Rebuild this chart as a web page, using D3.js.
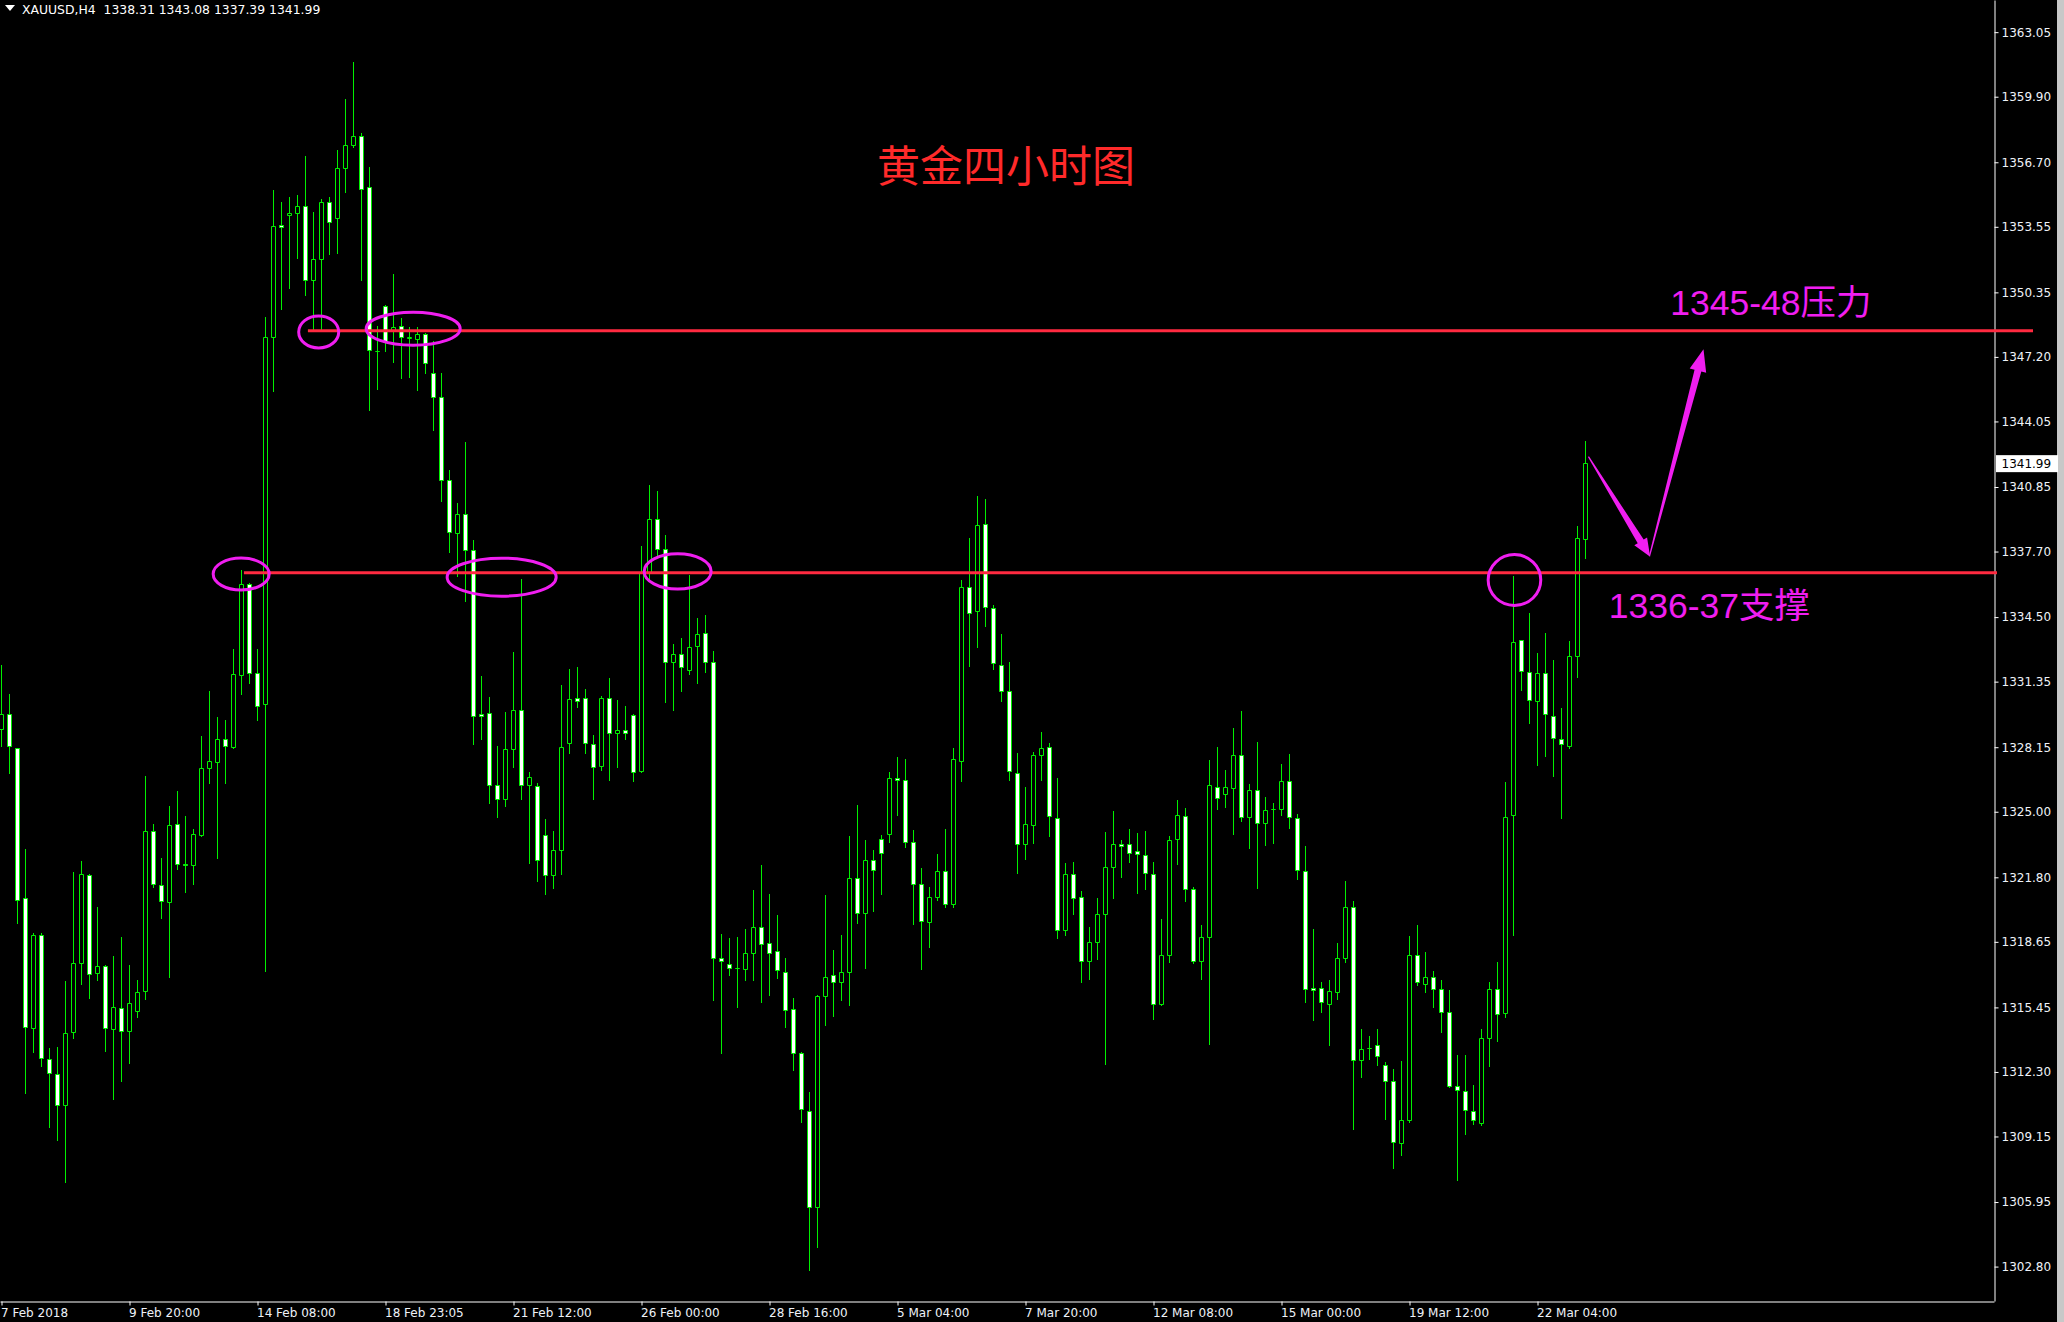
<!DOCTYPE html>
<html>
<head>
<meta charset="utf-8">
<script src="https://cdn.jsdelivr.net/npm/d3@7/dist/d3.min.js"></script>
<style>
  html, body { margin: 0; padding: 0; background: #000; }
  svg { display: block; }
</style>
</head>
<body>
<script>
// ---------------- DATA ----------------
const symbolLabel = "XAUUSD,H4";
const lastQuote = [1338.31, 1343.08, 1337.39, 1341.99];

const opens = [1329.03,1329.74,1328.08,1320.78,1314.44,1318.96,1312.89,1312.18,1310.66,1314.22,
1317.60,1321.89,1317.11,1317.44,1314.38,1315.40,1314.28,1315.27,1316.24,1324.04,
1321.39,1320.58,1324.38,1322.42,1322.38,1323.83,1327.11,1327.41,1328.53,1328.14,
1331.64,1336.10,1331.74,1330.24,1348.15,1353.60,1354.10,1354.20,1354.55,1350.91,
1351.96,1354.72,1353.95,1356.39,1357.54,1357.98,1355.47,1347.45,1349.67,1348.45,
1348.69,1348.12,1348.05,1348.27,1346.38,1345.21,1341.17,1338.58,1339.50,1337.74,
1329.75,1329.80,1326.28,1325.59,1328.03,1329.95,1326.26,1326.23,1323.82,1321.90,
1323.10,1328.35,1330.52,1330.52,1328.30,1327.21,1330.52,1328.81,1328.97,1329.69,
1326.98,1336.61,1339.27,1337.80,1332.30,1332.69,1331.91,1333.05,1333.69,1332.27,
1317.83,1317.55,1317.34,1317.29,1318.09,1319.33,1318.56,1318.17,1317.14,1315.35,
1313.21,1310.37,1305.69,1316.00,1317.00,1316.67,1317.16,1321.73,1320.03,1322.61,
1323.64,1323.90,1326.63,1326.53,1323.50,1321.45,1319.60,1320.79,1322.09,1320.47,
1327.45,1335.93,1334.78,1339.02,1334.92,1332.15,1330.85,1326.87,1323.38,1324.32,
1327.74,1328.12,1324.68,1319.22,1321.95,1320.81,1317.71,1318.62,1320.00,1322.29,
1323.40,1323.40,1323.08,1322.87,1321.95,1315.61,1318.00,1323.64,1324.78,1321.21,
1317.71,1318.86,1326.20,1325.86,1326.13,1327.75,1324.70,1326.03,1324.45,1325.09,
1325.09,1326.47,1324.65,1322.10,1316.37,1316.37,1315.59,1316.20,1317.83,1320.33,
1312.85,1313.43,1313.58,1312.63,1311.83,1308.79,1309.93,1317.99,1316.56,1316.90,
1316.32,1315.18,1311.59,1311.34,1310.37,1309.77,1313.94,1316.32,1315.16,1324.82,
1333.36,1331.79,1330.40,1331.74,1329.67,1328.51,1328.20,1332.59,1338.31];

const highs = [1332.15,1330.75,1328.08,1323.20,1319.06,1319.06,1313.45,1313.53,1316.73,1322.05,
1322.60,1321.95,1320.33,1317.50,1317.94,1318.91,1317.50,1316.77,1326.73,1324.42,
1322.74,1325.27,1326.02,1324.78,1324.16,1328.69,1330.89,1329.60,1329.46,1332.92,
1336.82,1336.16,1332.92,1349.17,1355.37,1354.77,1355.02,1355.12,1356.99,1354.25,
1354.92,1354.99,1357.29,1359.80,1361.59,1358.13,1356.49,1348.72,1349.71,1351.23,
1349.09,1348.67,1348.67,1348.37,1347.97,1346.40,1341.70,1340.05,1343.07,1338.24,
1331.61,1330.59,1328.20,1329.87,1332.78,1336.37,1326.93,1326.40,1324.64,1324.07,
1331.19,1331.96,1332.07,1331.00,1328.73,1330.65,1331.53,1330.46,1330.15,1329.75,
1337.96,1340.95,1340.64,1338.50,1333.18,1333.49,1336.56,1334.47,1334.60,1332.87,
1319.05,1318.84,1318.87,1319.28,1321.19,1322.41,1320.98,1319.95,1317.86,1315.92,
1313.25,1311.32,1316.05,1320.93,1318.25,1319.00,1323.82,1325.32,1323.62,1323.13,
1323.85,1326.93,1327.67,1327.57,1324.12,1322.25,1321.31,1322.94,1324.16,1328.10,
1336.33,1338.36,1340.41,1340.25,1335.10,1333.68,1332.31,1327.87,1326.23,1327.94,
1328.88,1328.34,1326.63,1322.49,1322.53,1321.11,1319.36,1320.77,1324.00,1325.04,
1323.60,1324.14,1323.98,1324.06,1322.53,1319.76,1323.84,1325.57,1325.17,1321.33,
1319.46,1327.53,1328.17,1327.03,1329.09,1329.92,1326.35,1328.39,1325.74,1325.42,
1327.32,1327.80,1324.89,1323.31,1319.26,1316.68,1316.81,1318.58,1321.61,1320.64,
1314.38,1314.06,1314.38,1312.80,1312.44,1312.85,1318.92,1319.45,1318.14,1317.24,
1316.78,1316.30,1313.14,1313.12,1311.66,1314.38,1316.68,1317.65,1326.47,1336.52,
1333.40,1334.72,1332.76,1333.73,1332.42,1330.04,1333.32,1338.95,1343.08];

const lows = [1328.22,1326.89,1319.56,1311.27,1313.29,1312.58,1309.59,1309.00,1306.92,1313.94,
1316.57,1315.92,1316.81,1313.33,1311.00,1311.88,1312.75,1315.00,1315.88,1321.34,
1319.81,1316.93,1322.19,1321.10,1321.47,1323.80,1326.38,1322.72,1326.38,1328.10,
1330.77,1331.30,1329.50,1317.24,1345.56,1349.54,1350.54,1352.03,1350.21,1348.55,
1348.47,1352.21,1352.26,1355.27,1357.43,1350.94,1344.63,1345.63,1347.47,1346.93,
1346.15,1346.20,1345.58,1346.43,1343.64,1340.15,1337.69,1336.52,1335.27,1328.30,
1328.55,1325.44,1324.72,1325.26,1327.18,1325.64,1322.50,1321.60,1321.00,1321.30,
1321.94,1327.88,1330.10,1327.88,1325.63,1327.05,1326.54,1327.18,1328.55,1326.51,
1326.93,1336.35,1337.52,1330.34,1329.97,1330.90,1331.71,1331.27,1331.83,1315.79,
1313.23,1317.03,1315.48,1316.77,1316.80,1315.71,1316.05,1316.88,1314.47,1312.38,
1309.88,1302.62,1303.75,1314.58,1315.04,1315.79,1315.56,1319.56,1317.37,1320.16,
1321.00,1323.53,1324.86,1323.30,1319.50,1317.33,1318.42,1320.69,1320.37,1320.37,
1326.51,1332.11,1333.04,1334.06,1331.99,1330.41,1326.57,1322.01,1322.70,1323.48,
1326.53,1323.84,1318.86,1319.00,1320.03,1316.71,1316.85,1317.83,1312.68,1320.80,
1321.81,1322.53,1321.05,1321.25,1314.88,1315.55,1317.66,1322.45,1320.65,1317.61,
1316.83,1313.68,1325.11,1325.21,1323.92,1324.55,1323.24,1321.30,1323.36,1323.46,
1324.82,1324.21,1321.73,1315.71,1314.82,1315.23,1313.60,1315.88,1317.66,1309.52,
1312.07,1312.92,1312.65,1310.01,1307.63,1308.26,1309.84,1316.52,1316.20,1315.47,
1314.26,1311.55,1307.02,1309.28,1309.77,1309.69,1312.60,1313.82,1314.99,1318.99,
1330.94,1329.31,1327.29,1327.73,1326.76,1324.70,1328.09,1331.59,1337.39];

const closes = [1329.74,1328.20,1320.67,1314.46,1318.96,1312.97,1312.20,1310.66,1314.18,1317.60,
1321.93,1317.05,1317.44,1314.44,1315.46,1314.28,1315.64,1316.18,1324.04,1321.47,
1320.64,1324.34,1322.44,1322.40,1323.89,1327.11,1327.45,1328.53,1328.20,1331.70,
1336.10,1331.76,1330.15,1348.15,1353.55,1353.50,1354.20,1354.55,1350.91,1351.96,
1354.72,1353.77,1356.39,1357.51,1357.98,1355.37,1347.53,1347.44,1347.97,1348.62,
1348.17,1348.17,1348.27,1346.88,1345.21,1341.15,1338.63,1339.50,1337.76,1329.65,
1329.65,1326.28,1325.61,1328.03,1329.95,1326.26,1326.68,1322.60,1321.90,1323.10,
1328.14,1330.47,1330.39,1328.32,1327.16,1330.52,1328.81,1328.97,1328.81,1326.93,
1336.61,1339.25,1337.80,1332.30,1332.69,1332.04,1333.02,1333.64,1332.30,1317.83,
1317.68,1317.34,1317.34,1318.09,1319.33,1318.53,1318.09,1317.27,1315.30,1313.21,
1310.47,1305.69,1316.00,1316.90,1316.67,1317.16,1321.73,1320.03,1322.61,1322.12,
1322.98,1326.62,1326.53,1323.50,1321.45,1319.66,1320.81,1322.09,1320.47,1327.55,
1335.93,1334.68,1338.98,1334.96,1332.23,1330.85,1326.97,1323.40,1324.38,1327.74,
1328.09,1324.78,1319.22,1321.95,1320.75,1317.71,1318.62,1320.00,1322.29,1323.40,
1323.32,1322.98,1322.93,1322.01,1315.61,1318.00,1323.60,1324.82,1321.21,1317.71,
1318.86,1326.29,1325.67,1326.18,1327.75,1324.70,1326.03,1324.45,1325.06,1325.09,
1326.47,1324.70,1322.14,1316.30,1316.27,1315.71,1316.22,1317.83,1320.33,1312.85,
1313.38,1313.43,1313.04,1311.83,1308.84,1309.93,1317.99,1316.68,1316.92,1316.32,
1315.18,1311.59,1311.39,1310.42,1309.93,1313.94,1316.32,1315.11,1324.72,1333.27,
1331.86,1330.45,1331.74,1329.75,1328.56,1328.29,1332.59,1338.34,1341.99];

const dateTickBars = [0,16,32,48,64,80,96,112,128,144,160,176,192];
const dateTickLabels = ["7 Feb 2018","9 Feb 20:00","14 Feb 08:00","18 Feb 23:05","21 Feb 12:00",
  "26 Feb 00:00","28 Feb 16:00","5 Mar 04:00","7 Mar 20:00","12 Mar 08:00","15 Mar 00:00",
  "19 Mar 12:00","22 Mar 04:00"];

const priceTicks = [1363.05,1359.90,1356.70,1353.55,1350.35,1347.20,1344.05,1340.85,1337.70,
  1334.50,1331.35,1328.15,1325.00,1321.80,1318.65,1315.45,1312.30,1309.15,1305.95,1302.80];

const titleText = "黄金四小时图";
const levelPrices = [1348.48, 1336.67];          // resistance, support
const levelStartBars = [38.3, 30.3];
const levelEndX = [2033, 1997];
const levelTexts = ["1345-48压力", "1336-37支撑"];
const levelTextAnchor = [[208.6, 1349.24], [200.9, 1334.46]]; // [bar, price] of text baseline-left

// circled touch points: [bar, price]
const circleBars   = [29.96, 39.65, 51.46, 62.52, 84.52, 189.12];
const circlePrices = [1336.60, 1348.42, 1348.58, 1336.45, 1336.73, 1336.31];
const circleRx = [28, 20, 47, 54.5, 33.5, 26.3];
const circleRy = [16, 16, 16.5, 19, 17.7, 25.4];

// projection arrows: [fromBar, fromPrice, toBar, toPrice]
const arrowFromBars = [198.37, 206.0];
const arrowFromPrices = [1342.33, 1337.48];
const arrowToBars = [206.08, 212.75];
const arrowToPrices = [1337.45, 1347.57];

// ---------------- DRAW ----------------
const W = 2064, H = 1322;
const plotRight = 1994, plotBottom = 1301;
const GREEN = "#00f000", RED = "#ff2a40", MAG = "#f01ef0", AXIS_TXT = "#eef2f8";

const svg = d3.select("body").append("svg").attr("width", W).attr("height", H);
svg.append("rect").attr("width", W).attr("height", H).attr("fill", "#000");
svg.append("rect").attr("x", 2057).attr("y", 0).attr("width", 7).attr("height", H).attr("fill", "#c8c8c8");

const x = d3.scaleLinear().domain([-0.1875, 249.0625]).range([0, plotRight]);
const y = d3.scaleLinear().domain([1301.12, 1364.62]).range([plotBottom, 0]);

const bars = d3.range(opens.length).map(i => ({i, o: opens[i], h: highs[i], l: lows[i], c: closes[i]}));
const snap = v => Math.round(v) + 0.5;

const gC = svg.append("g");
gC.selectAll("line.wick").data(bars).join("line")
  .attr("class", "wick")
  .attr("x1", d => snap(x(d.i) - 0.5)).attr("x2", d => snap(x(d.i) - 0.5))
  .attr("y1", d => Math.round(y(d.h))).attr("y2", d => Math.round(y(d.l)) + 1)
  .attr("stroke", GREEN).attr("stroke-width", 1);

gC.selectAll("path.body").data(bars).join("path")
  .attr("class", "body")
  .attr("d", d => {
    const cx = snap(x(d.i) - 0.5);
    const x0 = cx - 2, x1 = cx + 2;
    const yt = snap(y(Math.max(d.o, d.c)) - 0.5), yb = snap(y(Math.min(d.o, d.c)) - 0.5);
    return `M${x0},${yt}H${x1}V${yb}H${x0}Z`;
  })
  .attr("fill", d => d.c >= d.o ? "#000" : "#fff")
  .attr("stroke", GREEN).attr("stroke-width", 1);

// axes
const yAxis = d3.axisRight(y).tickValues(priceTicks).tickSize(4).tickSizeOuter(0).tickPadding(3)
  .tickFormat(d3.format(".2f"));
const gy = svg.append("g").attr("transform", `translate(${plotRight + 0.5},0)`).call(yAxis);
gy.select(".domain").attr("stroke", "#fff");
gy.selectAll(".tick line").attr("stroke", "#fff");
gy.selectAll(".tick text").attr("fill", AXIS_TXT).attr("font-family", "DejaVu Sans, sans-serif")
  .attr("font-size", 12);

const xAxis = d3.axisBottom(x).tickValues(dateTickBars).tickSize(4).tickSizeOuter(0).tickPadding(3)
  .tickFormat((d, k) => dateTickLabels[k]);
const gx = svg.append("g").attr("transform", `translate(0,${plotBottom + 0.5})`).call(xAxis);
gx.select(".domain").attr("stroke", "#fff");
gx.selectAll(".tick line").attr("stroke", "#fff");
gx.selectAll(".tick text").attr("fill", AXIS_TXT).attr("font-family", "DejaVu Sans, sans-serif")
  .attr("font-size", 12).attr("text-anchor", "start").attr("dx", -1);

// current price marker
const lastY = y(lastQuote[3]);
svg.append("rect").attr("x", 1996).attr("y", lastY - 8.5).attr("width", 62).attr("height", 17).attr("fill", "#fff");
svg.append("text").attr("x", 2001.5).attr("y", lastY).attr("dy", "0.35em")
  .attr("font-family", "DejaVu Sans, sans-serif").attr("font-size", 12).attr("fill", "#000")
  .text(d3.format(".2f")(lastQuote[3]));

// level lines
levelPrices.forEach((p, k) => {
  svg.append("line").attr("x1", x(levelStartBars[k])).attr("x2", levelEndX[k])
    .attr("y1", y(p)).attr("y2", y(p)).attr("stroke", RED).attr("stroke-width", 3);
});

// circles
circleBars.forEach((b, k) => {
  svg.append("ellipse").attr("cx", x(b)).attr("cy", y(circlePrices[k]))
    .attr("rx", circleRx[k]).attr("ry", circleRy[k])
    .attr("fill", "none").attr("stroke", MAG).attr("stroke-width", 3);
});

// arrows (tapered)
const arrowSpec = [{lh: 18, wh: 7.5, ws: 3.5, w0: 0.6}, {lh: 22, wh: 8.5, ws: 3.5, w0: 0.6}];
arrowFromBars.forEach((b, k) => {
  const sx = x(b), sy = y(arrowFromPrices[k]);
  const tx = x(arrowToBars[k]), ty = y(arrowToPrices[k]);
  const dx = tx - sx, dy = ty - sy, len = Math.hypot(dx, dy);
  const ux = dx / len, uy = dy / len, nx = -uy, ny = ux;
  const s = arrowSpec[k];
  const bx = tx - ux * s.lh, by = ty - uy * s.lh;
  const pts = [[sx + nx * s.w0, sy + ny * s.w0], [bx + nx * s.ws, by + ny * s.ws], [bx + nx * s.wh, by + ny * s.wh], [tx, ty],
               [bx - nx * s.wh, by - ny * s.wh], [bx - nx * s.ws, by - ny * s.ws], [sx - nx * s.w0, sy - ny * s.w0]];
  svg.append("path").attr("d", "M" + pts.map(p => p.join(",")).join("L") + "Z").attr("fill", MAG);
});

// level texts
levelTexts.forEach((t, k) => {
  svg.append("text").attr("x", x(levelTextAnchor[k][0])).attr("y", y(levelTextAnchor[k][1]))
    .attr("font-family", "Liberation Sans, Noto Sans CJK SC, sans-serif").attr("font-size", 35.5)
    .attr("fill", MAG).text(t);
});

// title
svg.append("text").attr("x", 877).attr("y", 182)
  .attr("font-family", "Noto Sans CJK SC, sans-serif").attr("font-size", 43)
  .attr("fill", "#ff2a2a").text(titleText);

// header
svg.append("path").attr("d", "M5,5L15,5L10,11Z").attr("fill", "#fff");
svg.append("text").attr("x", 22).attr("y", 14)
  .attr("font-family", "DejaVu Sans, sans-serif").attr("font-size", 12.4).attr("fill", "#fff")
  .attr("xml:space", "preserve")
  .text(symbolLabel + "  " + lastQuote.map(d3.format(".2f")).join(" "));
</script>
</body>
</html>
